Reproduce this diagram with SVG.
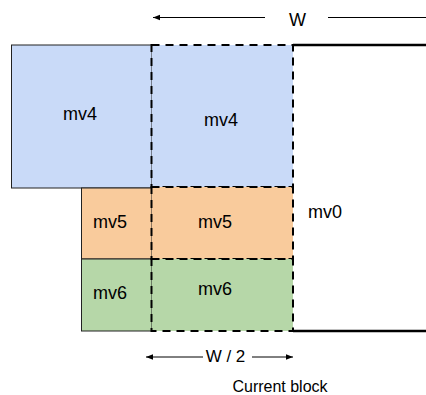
<svg xmlns="http://www.w3.org/2000/svg" width="426" height="395" viewBox="0 0 426 395">
<style>
text{font-family:"Liberation Sans",Arial,sans-serif;font-size:18px;fill:#000}
.solid{stroke:#222;stroke-width:1}
.dash{stroke:#000;stroke-width:2;stroke-dasharray:8,6}
.blue{fill:#c9daf8}.orange{fill:#f9cb9c}.green{fill:#b6d7a8}
.ln{stroke:#000;stroke-width:1;fill:none}
</style>
<defs>
<marker id="ah" viewBox="0 0 10 10" refX="10" refY="5" markerWidth="7" markerHeight="7" orient="auto-start-reverse" markerUnits="userSpaceOnUse">
<path d="M0,1 L10,5 L0,9 z" fill="#000"/>
</marker>
</defs>
<g id="left-mv4"><rect class="blue solid" x="11.5" y="45" width="140" height="143"/><text x="80" y="120" text-anchor="middle">mv4</text></g>
<g id="left-mv5"><rect class="orange solid" x="81.5" y="188" width="70" height="71"/><text x="110" y="228" text-anchor="middle">mv5</text></g>
<g id="left-mv6"><rect class="green solid" x="81.5" y="259" width="70" height="72"/><text x="110" y="299" text-anchor="middle">mv6</text></g>
<g id="current-block">
<path d="M293,45 H426 M293,331 H426" stroke="#000" stroke-width="2.5" fill="none"/>
<text x="325" y="218" text-anchor="middle">mv0</text>
<text x="280" y="392" text-anchor="middle" style="font-size:16px">Current block</text>
</g>
<g id="cur-mv4"><rect class="blue dash" x="151.5" y="45" width="141.5" height="142"/><text x="221" y="126" text-anchor="middle">mv4</text></g>
<g id="cur-mv5"><rect class="orange dash" x="151.5" y="187" width="141.5" height="72"/><text x="215" y="228" text-anchor="middle">mv5</text></g>
<g id="cur-mv6"><rect class="green dash" x="151.5" y="259" width="141.5" height="72"/><text x="215" y="295" text-anchor="middle">mv6</text></g>
<g id="connectors">
<line class="ln" x1="265" y1="17.5" x2="153" y2="17.5" marker-end="url(#ah)"/>
<line class="ln" x1="328" y1="17.5" x2="426" y2="17.5"/>
<text x="297.5" y="26" text-anchor="middle">W</text>
<line class="ln" x1="203" y1="357" x2="146" y2="357" marker-end="url(#ah)"/>
<line class="ln" x1="252" y1="357" x2="293" y2="357" marker-end="url(#ah)"/>
<text x="225.5" y="362" text-anchor="middle" style="font-size:17px">W / 2</text>
</g>
</svg>
